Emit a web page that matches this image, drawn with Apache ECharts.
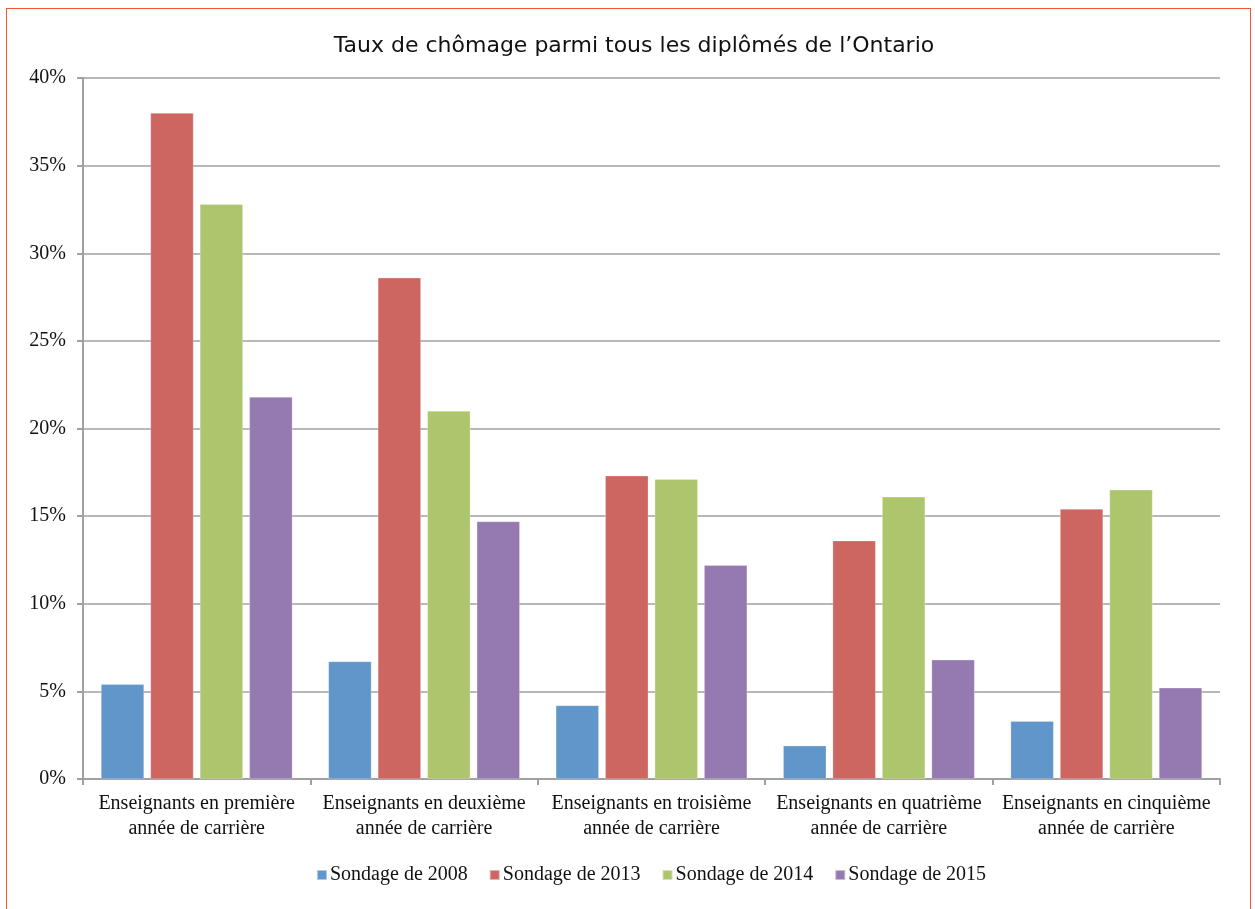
<!DOCTYPE html>
<html>
<head>
<meta charset="utf-8">
<title>Taux de chômage</title>
<script src="https://cdn.jsdelivr.net/npm/echarts@6/dist/echarts.min.js"></script>
<style>
  html, body { margin: 0; padding: 0; background: #fff; }
  #chart { width: 1255px; height: 909px; }
  .frame {
    position: absolute; left: 6px; top: 8px; width: 1243px; height: 920px;
    border: 1.5px solid #f2572f; pointer-events: none;
  }
</style>
</head>
<body>
<div id="chart"></div>
<div class="frame"></div>
<script>
// catégories (axe x)
const categories = [
  'Enseignants en première\nannée de carrière',
  'Enseignants en deuxième\nannée de carrière',
  'Enseignants en troisième\nannée de carrière',
  'Enseignants en quatrième\nannée de carrière',
  'Enseignants en cinquième\nannée de carrière'
]

// valeurs en %
const sondage2008 = [5.4, 6.7, 4.2, 1.9, 3.3]
const sondage2013 = [38.0, 28.6, 17.3, 13.6, 15.4]
const sondage2014 = [32.8, 21.0, 17.1, 16.1, 16.5]
const sondage2015 = [21.8, 14.7, 12.2, 6.8, 5.2]

const seriesNames = ['Sondage de 2008', 'Sondage de 2013', 'Sondage de 2014', 'Sondage de 2015']
const colors = ['#6096ca', '#cd6560', '#adc66d', '#947ab1']

const serif = '"Liberation Serif", "DejaVu Serif", serif'

const chart = echarts.init(document.getElementById('chart'))

const makeSeries = (name, data, color) => ({
  name,
  type: 'bar',
  data,
  barWidth: 43,
  barGap: '15%',
  itemStyle: { color, borderColor: 'rgba(255,255,255,0.5)', borderWidth: 0.5 }
})

const option = {
  animation: false,
  title: {
    text: 'Taux de chômage parmi tous les diplômés de l’Ontario',
    left: 629,
    textAlign: 'center',
    top: 30,
    textStyle: {
      fontFamily: '"DejaVu Sans", Verdana, sans-serif',
      fontSize: 22,
      fontWeight: 'normal',
      color: '#111'
    }
  },
  legend: {
    bottom: 19,
    left: 311,
    itemWidth: 10,
    itemHeight: 10,
    itemGap: 21,
    icon: 'rect',
    textStyle: { fontFamily: serif, fontSize: 20, color: '#111', padding: [0, 0, 0, -2] }
  },
  grid: {
    left: 83,
    right: 35,
    top: 78,
    bottom: 130
  },
  xAxis: {
    type: 'category',
    data: categories,
    axisLine: { lineStyle: { color: '#a0a0a0', width: 2 } },
    axisTick: { show: true, length: 6, lineStyle: { color: '#a0a0a0', width: 2 } },
    axisLabel: {
      fontFamily: serif,
      fontSize: 20,
      color: '#111',
      lineHeight: 25,
      margin: 12,
      interval: 0
    }
  },
  yAxis: {
    type: 'value',
    min: 0,
    max: 40,
    interval: 5,
    axisLine: { show: true, lineStyle: { color: '#a0a0a0', width: 2 } },
    axisTick: { show: true, length: 6, lineStyle: { color: '#a0a0a0', width: 2 } },
    splitLine: { lineStyle: { color: '#a0a0a0', width: 1.5 } },
    axisLabel: {
      formatter: '{value}%',
      fontFamily: serif,
      fontSize: 20,
      color: '#111',
      margin: 17,
      lineHeight: 20,
      padding: [6, 0, 0, 0]
    }
  },
  series: [
    makeSeries(seriesNames[0], sondage2008, colors[0]),
    makeSeries(seriesNames[1], sondage2013, colors[1]),
    makeSeries(seriesNames[2], sondage2014, colors[2]),
    makeSeries(seriesNames[3], sondage2015, colors[3])
  ]
}

chart.setOption(option)
</script>
</body>
</html>
